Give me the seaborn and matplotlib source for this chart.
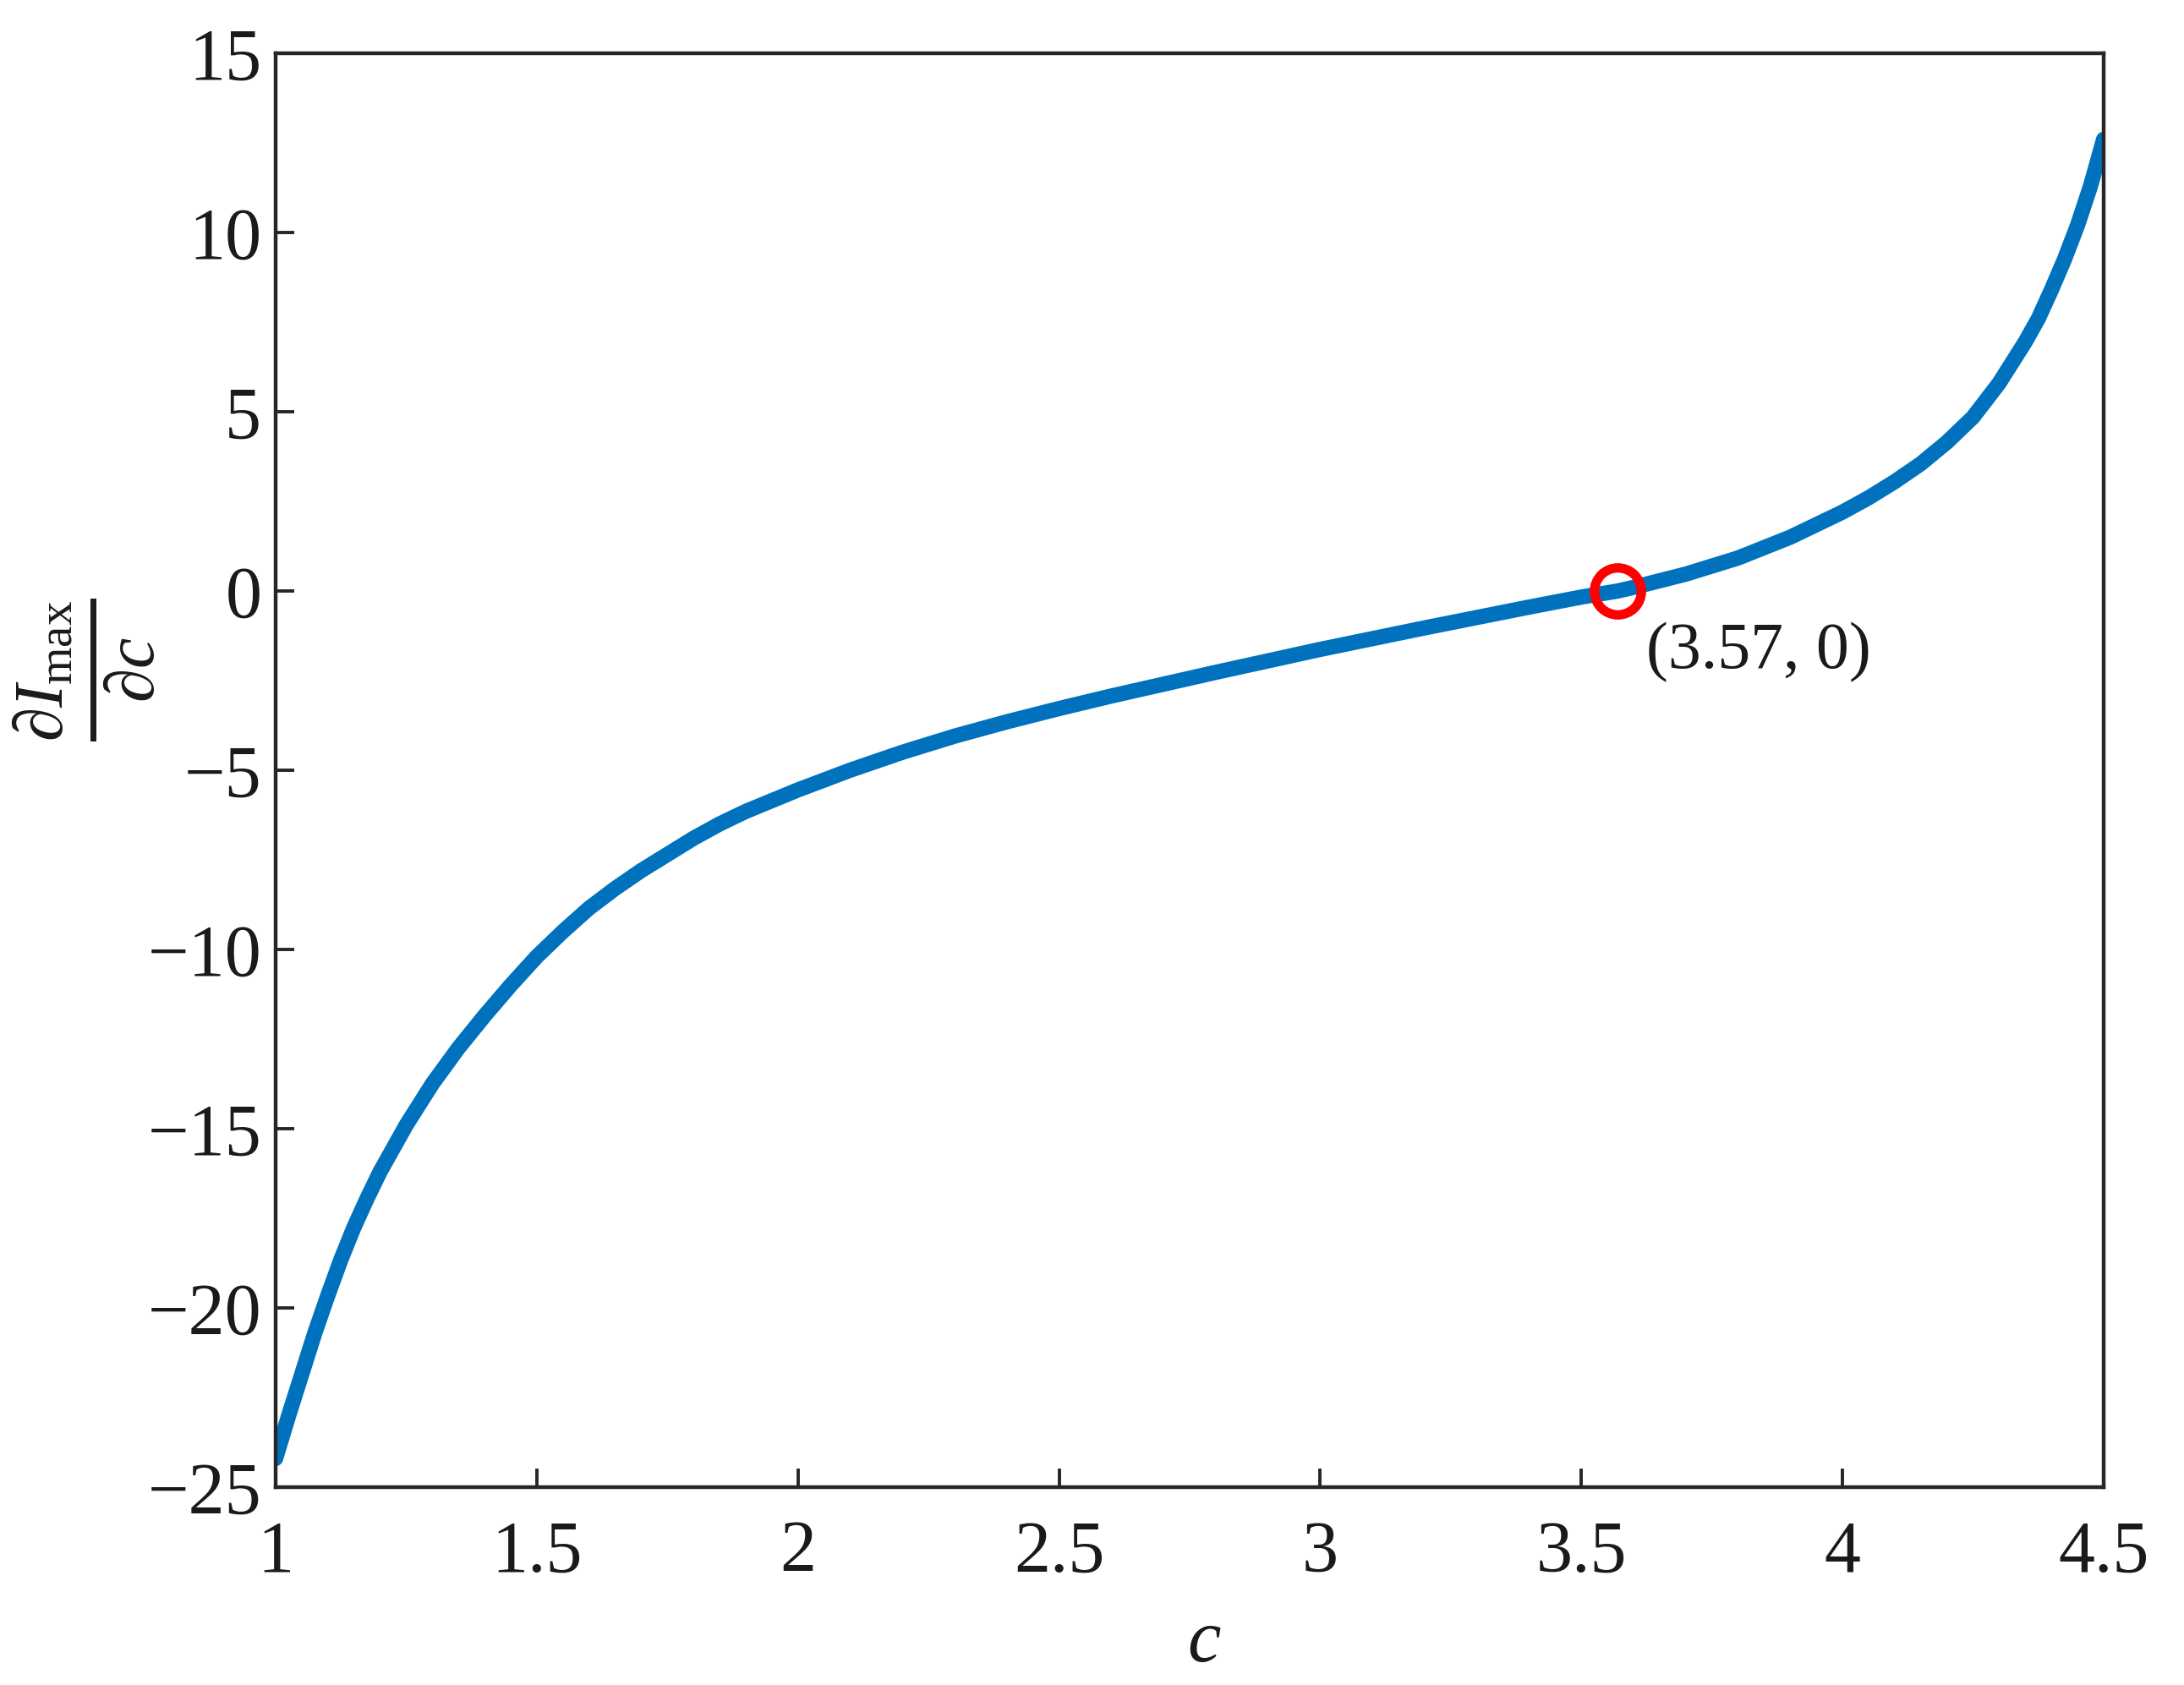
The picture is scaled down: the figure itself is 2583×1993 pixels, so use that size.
import matplotlib
matplotlib.use("Agg")
import matplotlib.pyplot as plt
import pandas as pd
import seaborn as sns

# values
c_vals = [1.0, 1.025, 1.05, 1.075, 1.1, 1.125, 1.15, 1.175, 1.2, 1.25, 1.3,
          1.35, 1.4, 1.45, 1.5, 1.55, 1.6, 1.65, 1.7, 1.75, 1.8, 1.85, 1.9,
          1.95, 2.0, 2.1, 2.2, 2.3, 2.4, 2.5, 2.6, 2.7, 2.8, 2.9, 3.0, 3.1,
          3.2, 3.3, 3.4, 3.5, 3.57, 3.6, 3.7, 3.8, 3.9, 4.0, 4.05, 4.1, 4.15,
          4.2, 4.25, 4.3, 4.35, 4.375, 4.4, 4.425, 4.45, 4.475, 4.5]
dI_vals = [-24.2, -23.0, -21.85, -20.7, -19.65, -18.65, -17.75, -16.95,
           -16.2, -14.9, -13.75, -12.75, -11.85, -11.0, -10.2, -9.5, -8.85,
           -8.3, -7.8, -7.35, -6.9, -6.5, -6.15, -5.85, -5.55, -5.0, -4.5,
           -4.05, -3.65, -3.28, -2.93, -2.6, -2.27, -1.95, -1.63, -1.33,
           -1.03, -0.74, -0.45, -0.17, 0.0, 0.1, 0.47, 0.92, 1.5, 2.2, 2.6,
           3.05, 3.55, 4.15, 4.85, 5.8, 6.95, 7.6, 8.4, 9.25, 10.2, 11.3, 12.6]
root_c = [3.57]
root_val = [0.0]
root_label = "(3.57, 0)"
x_ticks = [1, 1.5, 2, 2.5, 3, 3.5, 4, 4.5]
x_tick_labels = ["1", "1.5", "2", "2.5", "3", "3.5", "4", "4.5"]
y_ticks = [-25, -20, -15, -10, -5, 0, 5, 10, 15]

sns.set_theme(style="white")
plt.rcParams["font.family"] = ["Liberation Serif", "DejaVu Serif"]
plt.rcParams["mathtext.fontset"] = "custom"
plt.rcParams["mathtext.rm"] = "Liberation Serif"
plt.rcParams["mathtext.it"] = "Liberation Serif:italic"
plt.rcParams["mathtext.bf"] = "Liberation Serif:bold"

df = pd.DataFrame({"c": c_vals, "dI": dI_vals})

fig = plt.figure(figsize=(12.915, 9.965), dpi=200)
ax = fig.add_axes([0.1262, 0.1174, 0.837, 0.851])

sns.lineplot(data=df, x="c", y="dI", ax=ax, color="#0072BD", linewidth=6.5,
             solid_capstyle="round", solid_joinstyle="round")
ax.plot(root_c, root_val, "o", markersize=20, markerfacecolor="none",
        markeredgecolor="#FF0000", markeredgewidth=4, zorder=5)
ax.text(3.625, -1.7, root_label, ha="left", va="center", fontsize=28,
        color="#1a1a1a")

ax.set_xlim(1, 4.5)
ax.set_ylim(-25, 15)
ax.set_xticks(x_ticks)
ax.set_xticklabels(x_tick_labels)
ax.set_yticks(y_ticks)

for side in ["left", "bottom", "top", "right"]:
    ax.spines[side].set_visible(True)
    ax.spines[side].set_color("#262626")
    ax.spines[side].set_linewidth(1.6)

ax.tick_params(axis="both", direction="in", length=8, width=1.4,
               color="#262626", labelsize=31, labelcolor="#1a1a1a",
               bottom=True, left=True, top=False, right=False)
ax.tick_params(axis="x", pad=14)
ax.tick_params(axis="y", pad=6)

ax.set_xlabel(r"$c$", fontsize=32, color="#1a1a1a")
ax.xaxis.set_label_coords(0.508, -0.085)
ax.set_ylabel(r"$\frac{\partial I_{\max}}{\partial c}$", fontsize=42,
              color="#1a1a1a", rotation=90)
ax.yaxis.set_label_coords(-0.065, 0.57)

fig.savefig("out.png", dpi=200, facecolor="white")
